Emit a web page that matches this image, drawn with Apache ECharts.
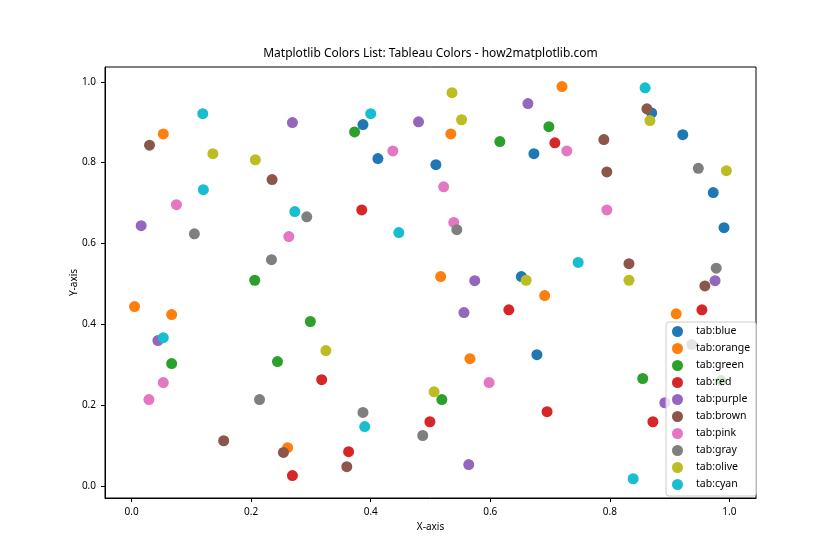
<!DOCTYPE html>
<html>
<head>
<meta charset="utf-8">
<script src="https://cdn.jsdelivr.net/npm/echarts@6/dist/echarts.min.js"></script>
<style>html,body{margin:0;padding:0;background:#fff}#c{width:840px;height:560px}</style>
</head>
<body>
<div id="c"></div>
<script>
const names = ['tab:blue','tab:orange','tab:green','tab:red','tab:purple','tab:brown','tab:pink','tab:gray','tab:olive','tab:cyan'];
const colors = ['#1f77b4','#ff7f0e','#2ca02c','#d62728','#9467bd','#8c564b','#e377c2','#7f7f7f','#bcbd22','#17becf'];
const tickValues = [0, 0.2, 0.4, 0.6, 0.8, 1.0];

const blueX   = [0.387,0.412,0.509,0.673,0.870,0.922,0.973,0.991,0.652,0.678];
const blueY   = [0.894,0.810,0.795,0.822,0.923,0.869,0.726,0.639,0.518,0.325];
const orangeX = [0.053,0.534,0.720,0.005,0.067,0.517,0.691,0.911,0.566,0.261];
const orangeY = [0.871,0.871,0.988,0.444,0.424,0.518,0.471,0.426,0.315,0.095];
const greenX  = [0.373,0.616,0.698,0.206,0.299,0.067,0.244,0.519,0.855,0.986];
const greenY  = [0.876,0.852,0.889,0.509,0.407,0.303,0.308,0.214,0.266,0.261];
const redX    = [0.708,0.385,0.631,0.318,0.269,0.363,0.499,0.695,0.872,0.954];
const redY    = [0.849,0.683,0.436,0.263,0.026,0.085,0.159,0.184,0.159,0.436];
const purpleX = [0.269,0.480,0.663,0.016,0.044,0.574,0.556,0.976,0.564,0.892];
const purpleY = [0.899,0.901,0.946,0.644,0.360,0.508,0.429,0.508,0.053,0.206];
const brownX  = [0.030,0.235,0.862,0.790,0.795,0.832,0.959,0.154,0.254,0.360];
const brownY  = [0.843,0.758,0.933,0.857,0.777,0.550,0.495,0.112,0.083,0.048];
const pinkX   = [0.437,0.522,0.728,0.075,0.263,0.539,0.795,0.053,0.029,0.598];
const pinkY   = [0.829,0.740,0.829,0.696,0.617,0.652,0.683,0.256,0.214,0.256];
const grayX   = [0.105,0.293,0.234,0.544,0.948,0.978,0.214,0.387,0.487,0.937];
const grayY   = [0.624,0.666,0.560,0.634,0.786,0.539,0.214,0.182,0.125,0.350];
const oliveX  = [0.136,0.207,0.536,0.552,0.867,0.995,0.660,0.832,0.325,0.506];
const oliveY  = [0.822,0.807,0.973,0.906,0.904,0.780,0.509,0.509,0.335,0.233];
const cyanX   = [0.119,0.120,0.400,0.859,0.273,0.447,0.747,0.053,0.390,0.839];
const cyanY   = [0.921,0.733,0.921,0.985,0.679,0.627,0.553,0.367,0.147,0.018];

const xs = [blueX, orangeX, greenX, redX, purpleX, brownX, pinkX, grayX, oliveX, cyanX];
const ys = [blueY, orangeY, greenY, redY, purpleY, brownY, pinkY, grayY, oliveY, cyanY];

const FONT = 'Noto Sans';
const chart = echarts.init(document.getElementById('c'), null, {renderer: 'canvas'});

const series = names.map((n, i) => ({
  name: n,
  type: 'scatter',
  symbol: 'circle',
  symbolSize: 11,
  itemStyle: {color: colors[i], opacity: 1},
  emphasis: {disabled: true},
  data: xs[i].map((x, j) => [x, ys[i][j]])
}));

chart.setOption({
  animation: false,
  backgroundColor: '#fff',
  textStyle: {fontFamily: FONT},
  title: {
    text: 'Matplotlib Colors List: Tableau Colors - how2matplotlib.com',
    left: 430.5, top: 48, textAlign: 'center', padding: 0,
    textStyle: {fontFamily: FONT, fontSize: 12, fontWeight: 'normal', color: '#000'}
  },
  grid: {left: 105, right: 84, top: 67, bottom: 62, show: true, borderColor: '#000', borderWidth: 1, backgroundColor: 'transparent'},
  xAxis: {
    type: 'value', min: -0.0445, max: 1.0445,
    name: 'X-axis', nameLocation: 'middle', nameGap: 20,
    nameTextStyle: {fontFamily: FONT, fontSize: 10, color: '#000'},
    axisLine: {show: true, onZero: false, lineStyle: {color: '#000', width: 1}},
    axisTick: {show: true, length: 4, customValues: tickValues, lineStyle: {color: '#000'}},
    axisLabel: {customValues: tickValues, margin: 9, fontFamily: FONT, fontSize: 10, color: '#000', formatter: v => v.toFixed(1)},
    splitLine: {show: false}
  },
  yAxis: {
    type: 'value', min: -0.0296, max: 1.0365,
    name: 'Y-axis', nameLocation: 'middle', nameGap: 26, nameRotate: 90, nameMoveOverlap: false,
    nameTextStyle: {fontFamily: FONT, fontSize: 10, color: '#000'},
    axisLine: {show: true, onZero: false, lineStyle: {color: '#000', width: 1}},
    axisTick: {show: true, length: 4, customValues: tickValues, lineStyle: {color: '#000'}},
    axisLabel: {customValues: tickValues, margin: 9, fontFamily: FONT, fontSize: 10, color: '#000', formatter: v => v.toFixed(1)},
    splitLine: {show: false}
  },
  legend: {
    orient: 'vertical',
    left: 666, top: 322,
    padding: [4, 6, 6, 6],
    itemWidth: 11, itemHeight: 11, itemGap: 6,
    icon: 'circle',
    backgroundColor: 'rgba(255,255,255,0.8)',
    borderColor: '#ccc', borderWidth: 1, borderRadius: 3,
    textStyle: {fontFamily: FONT, fontSize: 10.5, color: '#000', lineHeight: 11, padding: [0, 0, 0, 8]},
    data: names,
    selectedMode: false
  },
  series: series
});
</script>
</body>
</html>
